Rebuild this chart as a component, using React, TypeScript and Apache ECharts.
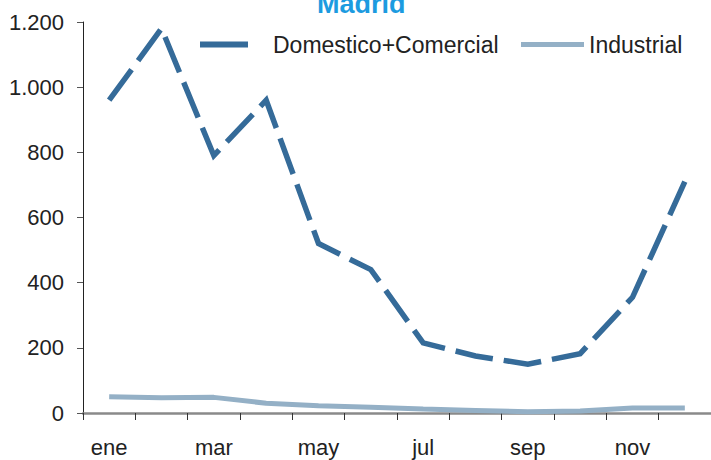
import React, { useEffect, useRef } from "react";
import * as echarts from "echarts";

const months = ["ene", "feb", "mar", "abr", "may", "jun", "jul", "ago", "sep", "oct", "nov", "dic"];
const domestico = [960, 1180, 790, 960, 520, 440, 215, 175, 150, 182, 355, 710];
const industrial = [50, 47, 48, 30, 22, 18, 12, 8, 4, 6, 15, 15];
const yTicks = [0, 200, 400, 600, 800, 1000, 1200];

const DOM_COLOR = "#356b99";
const IND_COLOR = "#94b0c6";
const FONT = "Liberation Sans, Arial, Helvetica, sans-serif";

export default function App() {
  const ref = useRef<HTMLDivElement>(null);
  useEffect(() => {
    if (!ref.current) return;
    const chart = echarts.init(ref.current, undefined, { renderer: "svg" });
    chart.setOption({
      animation: false,
      backgroundColor: "#ffffff",
      textStyle: { fontFamily: FONT },
      title: {
        text: "Madrid",
        left: 317,
        top: -10,
        padding: 0,
        textStyle: { fontSize: 27, fontWeight: "bold", color: "#1c9be0", fontFamily: FONT },
      },
      legend: [
        {
          left: 200,
          top: 33,
          padding: 0,
          itemWidth: 48,
          itemHeight: 6,
          icon: "rect",
          data: ["Domestico+Comercial"],
          textStyle: { fontSize: 23, color: "#222", fontFamily: FONT, padding: [0, 0, 0, 20] },
        },
        {
          left: 521,
          top: 33,
          padding: 0,
          itemWidth: 63,
          itemHeight: 5,
          icon: "rect",
          data: ["Industrial"],
          textStyle: { fontSize: 23, color: "#222", fontFamily: FONT },
        },
      ],
      grid: { left: 83, top: 22, width: 640, bottom: 47 },
      xAxis: {
        type: "category",
        data: months,
        boundaryGap: true,
        axisLine: { lineStyle: { color: "#8a8a8a", width: 2.5 } },
        axisTick: { show: true, interval: 0, length: 7, lineStyle: { color: "#333", width: 1 } },
        axisLabel: { interval: 1, fontSize: 22, color: "#222", margin: 23, fontFamily: FONT },
        splitLine: { show: false },
      },
      yAxis: {
        type: "value",
        min: yTicks[0],
        max: yTicks[yTicks.length - 1],
        interval: 200,
        axisLine: { show: true, lineStyle: { color: "#222", width: 1 } },
        axisTick: { show: true, length: 6, lineStyle: { color: "#555", width: 1 } },
        axisLabel: {
          fontSize: 22,
          color: "#222",
          margin: 19,
          fontFamily: FONT,
          formatter: (v: number) => String(v).replace(/\B(?=(\d{3})+(?!\d))/g, "."),
        },
        splitLine: { show: false },
      },
      series: [
        {
          name: "Domestico+Comercial",
          type: "line",
          data: domestico,
          symbol: "none",
          showSymbol: false,
          lineStyle: { color: DOM_COLOR, width: 5.5, type: [38, 11], cap: "butt", join: "miter" },
          itemStyle: { color: DOM_COLOR },
          z: 3,
        },
        {
          name: "Industrial",
          type: "line",
          data: industrial,
          symbol: "none",
          showSymbol: false,
          lineStyle: { color: IND_COLOR, width: 5 },
          itemStyle: { color: IND_COLOR },
          z: 2,
        },
      ],
    });
    return () => chart.dispose();
  }, []);
  return <div ref={ref} style={{ width: 711, height: 460, position: "absolute", left: 0, top: 0 }} />;
}
